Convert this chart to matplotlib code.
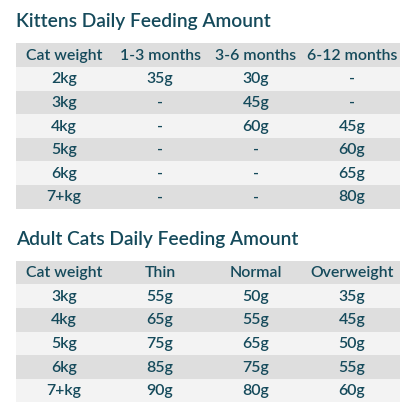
import matplotlib
matplotlib.use("Agg")
import matplotlib.pyplot as plt
from matplotlib.patches import Rectangle

kitten_title = "Kittens Daily Feeding Amount"
kitten_headers = ["Cat weight", "1-3 months", "3-6 months", "6-12 months"]
kitten_weights = ["2kg", "3kg", "4kg", "5kg", "6kg", "7+kg"]
kitten_1_3 = ["35g", "-", "-", "-", "-", "-"]
kitten_3_6 = ["30g", "45g", "60g", "-", "-", "-"]
kitten_6_12 = ["-", "-", "45g", "60g", "65g", "80g"]

adult_title = "Adult Cats Daily Feeding Amount"
adult_headers = ["Cat weight", "Thin", "Normal", "Overweight"]
adult_weights = ["3kg", "4kg", "5kg", "6kg", "7+kg"]
adult_thin = ["55g", "65g", "75g", "85g", "90g"]
adult_normal = ["50g", "55g", "65g", "75g", "80g"]
adult_over = ["35g", "45g", "50g", "55g", "60g"]

family = "Lato"

TEXT = "#154a5b"
DARK = "#dedede"
LIGHT = "#f3f3f3"

fig = plt.figure(figsize=(4.16, 4.16), dpi=100)
ax = fig.add_axes([0, 0, 1, 1])
ax.set_xlim(0, 416)
ax.set_ylim(416, 0)
ax.axis("off")

X0, COLW, ROWH = 16, 96, 23.63


def draw_table(title, title_y, top, headers, rows):
    ax.text(X0, title_y, title, color=TEXT, fontsize=13.8, family=family,
            weight="semibold", va="center", ha="left")
    all_rows = [headers] + rows
    for r, row in enumerate(all_rows):
        y = top + r * ROWH
        col = DARK if r % 2 == 0 else LIGHT
        ax.add_patch(Rectangle((X0, y), COLW * 4, ROWH, facecolor=col,
                               edgecolor="none"))
        for c, val in enumerate(row):
            ax.text(X0 + COLW * (c + 0.5), y + ROWH / 2 + 0.5, val,
                    color=TEXT, fontsize=11.4, family=family,
                    weight="semibold", ha="center", va="center")


k_rows = [list(t) for t in zip(kitten_weights, kitten_1_3, kitten_3_6, kitten_6_12)]
a_rows = [list(t) for t in zip(adult_weights, adult_thin, adult_normal, adult_over)]

draw_table(kitten_title, 22, 43.3, kitten_headers, k_rows)
draw_table(adult_title, 240, 260.7, adult_headers, a_rows)

fig.savefig("out.png", dpi=100, facecolor="white")
